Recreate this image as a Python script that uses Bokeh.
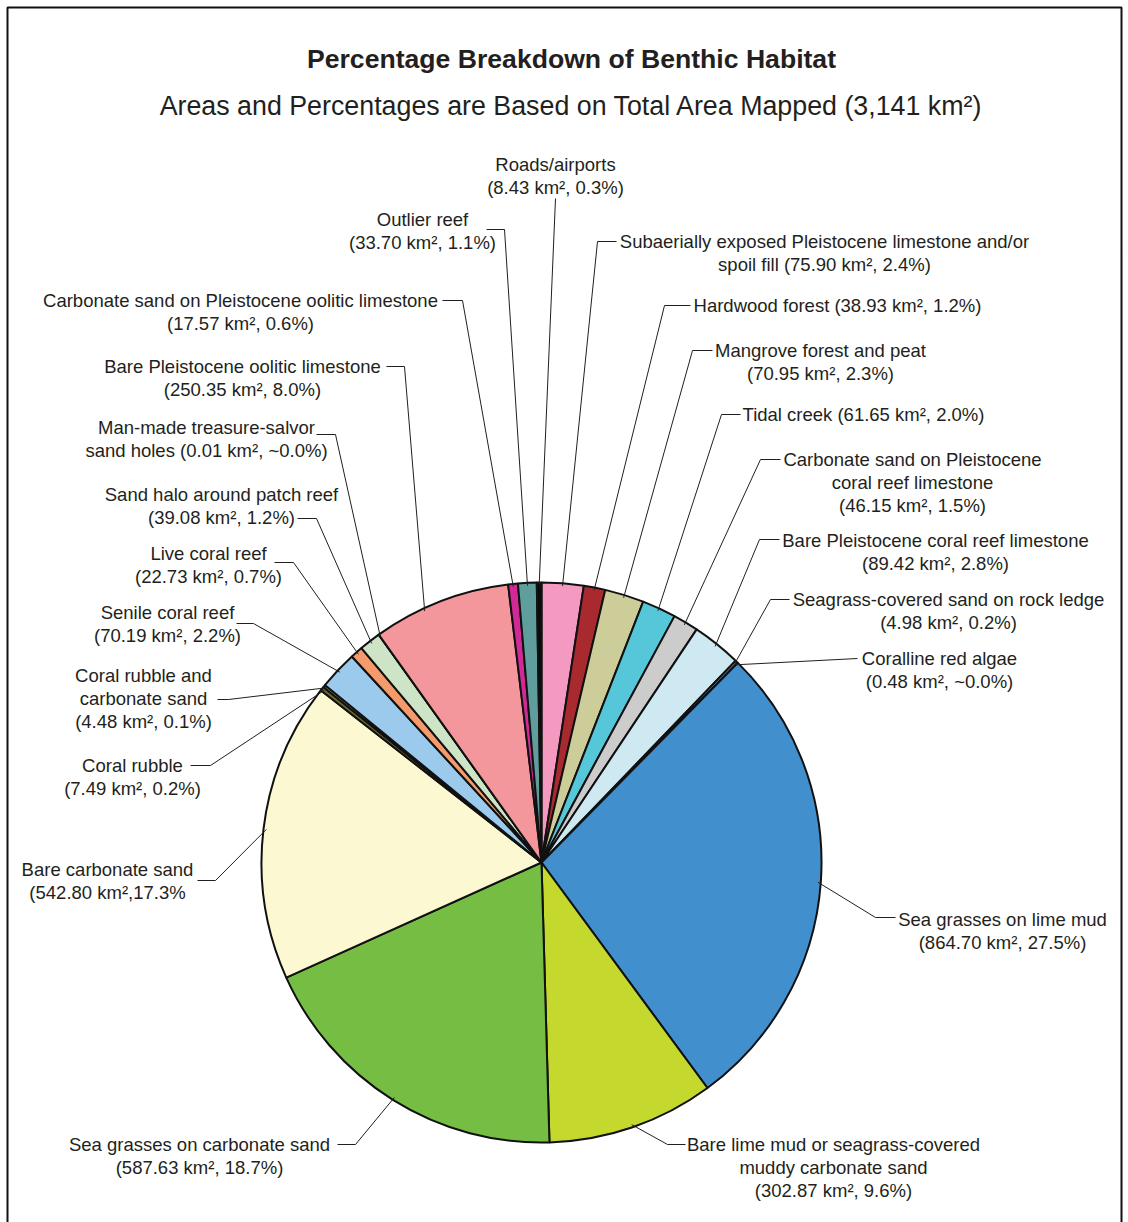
import math
from bokeh.plotting import figure
from bokeh.models import Range1d
from bokeh.core.properties import value
from bokeh.embed import file_html
from bokeh.resources import INLINE

# ---------------- data ----------------
habitats = [
    "Subaerially exposed Pleistocene limestone and/or spoil fill",
    "Hardwood forest",
    "Mangrove forest and peat",
    "Tidal creek",
    "Carbonate sand on Pleistocene coral reef limestone",
    "Bare Pleistocene coral reef limestone",
    "Seagrass-covered sand on rock ledge",
    "Coralline red algae",
    "Sea grasses on lime mud",
    "Bare lime mud or seagrass-covered muddy carbonate sand",
    "Sea grasses on carbonate sand",
    "Bare carbonate sand",
    "Coral rubble",
    "Coral rubble and carbonate sand",
    "Senile coral reef",
    "Live coral reef",
    "Sand halo around patch reef",
    "Man-made treasure-salvor sand holes",
    "Bare Pleistocene oolitic limestone",
    "Carbonate sand on Pleistocene oolitic limestone",
    "Outlier reef",
    "Roads/airports",
]
areas_km2 = [75.90, 38.93, 70.95, 61.65, 46.15, 89.42, 4.98, 0.48, 864.70, 302.87,
             587.63, 542.80, 7.49, 4.48, 70.19, 22.73, 39.08, 0.01, 250.35, 17.57,
             33.70, 8.43]
colors = ["#F49AC1", "#A8292E", "#CDCD9A", "#56C7D8", "#CCCCCC", "#CEE9F2", "#86BDE0",
          "#E8A3A8", "#418FCD", "#C5D82E", "#76BE43", "#FCF8D1", "#6B6A2E", "#A8A67A",
          "#9CCAEC", "#F59B6B", "#CDE5C6", "#FFFFFF", "#F4979C", "#D12A96", "#5F9E9C",
          "#0B0B0B"]
label_lines = [
    ["Subaerially exposed Pleistocene limestone and/or", "spoil fill (75.90 km\u00b2, 2.4%)"],
    ["Hardwood forest (38.93 km\u00b2, 1.2%)"],
    ["Mangrove forest and peat", "(70.95 km\u00b2, 2.3%)"],
    ["Tidal creek (61.65 km\u00b2, 2.0%)"],
    ["Carbonate sand on Pleistocene", "coral reef limestone", "(46.15 km\u00b2, 1.5%)"],
    ["Bare Pleistocene coral reef limestone", "(89.42 km\u00b2, 2.8%)"],
    ["Seagrass-covered sand on rock ledge", "(4.98 km\u00b2, 0.2%)"],
    ["Coralline red algae", "(0.48 km\u00b2, ~0.0%)"],
    ["Sea grasses on lime mud", "(864.70 km\u00b2, 27.5%)"],
    ["Bare lime mud or seagrass-covered", "muddy carbonate sand", "(302.87 km\u00b2, 9.6%)"],
    ["Sea grasses on carbonate sand", "(587.63 km\u00b2, 18.7%)"],
    ["Bare carbonate sand", "(542.80 km\u00b2,17.3%"],
    ["Coral rubble", "(7.49 km\u00b2, 0.2%)"],
    ["Coral rubble and", "carbonate sand", "(4.48 km\u00b2, 0.1%)"],
    ["Senile coral reef", "(70.19 km\u00b2, 2.2%)"],
    ["Live coral reef", "(22.73 km\u00b2, 0.7%)"],
    ["Sand halo around patch reef", "(39.08 km\u00b2, 1.2%)"],
    ["Man-made treasure-salvor", "sand holes (0.01 km\u00b2, ~0.0%)"],
    ["Bare Pleistocene oolitic limestone", "(250.35 km\u00b2, 8.0%)"],
    ["Carbonate sand on Pleistocene oolitic limestone", "(17.57 km\u00b2, 0.6%)"],
    ["Outlier reef", "(33.70 km\u00b2, 1.1%)"],
    ["Roads/airports", "(8.43 km\u00b2, 0.3%)"],
]
title = "Percentage Breakdown of Benthic Habitat"
subtitle = "Areas and Percentages are Based on Total Area Mapped (3,141 km\u00b2)"

# ---------------- layout (page pixels, y measured from top) ----------------
W, H = 1128, 1222
CX, CY, R = 541, 862, 280
LINE_H = 23
# label block centre x, first line y
label_pos = [(824, 241), (837, 305), (820, 350), (863, 414), (912, 459), (935, 540),
             (948, 599), (939, 658), (1002, 919), (833, 1144), (199, 1144), (107, 869),
             (132, 765), (143, 675), (167, 612), (208, 553), (221, 494), (206, 427),
             (242, 366), (240, 300), (422, 219), (555, 164)]
# leader: start point near the label, elbow point
leader_start = [(616, 241), (690, 305), (712, 350), (740, 414), (780, 459), (779, 539),
                (789, 599), (857, 658), (895, 917), (685, 1144), (337, 1144), (197, 880),
                (190, 765), (217, 699), (236, 623), (274, 562), (297, 518), (316, 434),
                (386, 366), (442, 300), (486, 229), (555, 198)]
leader_elbow = [(597, 241), (664, 305), (692, 350), (721, 414), (760, 459), (759, 539),
                (770, 599), (857, 658), (875, 917), (667, 1144), (355, 1144), (215, 880),
                (210, 765), (228, 699), (253, 623), (293, 562), (316, 518), (335, 434),
                (404, 366), (462, 300), (504, 229), (555, 198)]
leader_frac = [0.5] * len(habitats)
leader_frac[18] = 0.37


def fy(y):
    return H - y


total = sum(areas_km2)
start_f, end_f = [], []
acc = 0.0
for a in areas_km2:
    start_f.append(acc / total)
    acc += a
    end_f.append(acc / total)

start_ang = [math.pi / 2 - 2 * math.pi * f for f in start_f]
end_ang = [math.pi / 2 - 2 * math.pi * f for f in end_f]

p = figure(width=W, height=H, x_range=Range1d(0, W), y_range=Range1d(0, H),
           output_backend="svg", toolbar_location=None,
           x_axis_location=None, y_axis_location=None, min_border=0)
p.outline_line_color = None
p.xgrid.visible = False
p.ygrid.visible = False
p.background_fill_color = "white"

# frame
p.quad(left=[7], right=[1121], top=[fy(7)], bottom=[-20], fill_color=None,
       line_color="#111111", line_width=2)

# pie
p.wedge(x=CX, y=fy(CY), radius=R, start_angle=start_ang, end_angle=end_ang,
        direction="clock", fill_color=colors, line_color="#111111", line_width=2)

# leader lines
xs, ys = [], []
for i in range(len(habitats)):
    f = start_f[i] + leader_frac[i] * (end_f[i] - start_f[i])
    ang = 2 * math.pi * f
    px = CX + 0.99 * R * math.sin(ang)
    py = CY - 0.99 * R * math.cos(ang)
    sx, sy = leader_start[i]
    ex, ey = leader_elbow[i]
    xs.append([sx, ex, px])
    ys.append([fy(sy), fy(ey), fy(py)])
p.multi_line(xs=xs, ys=ys, line_color="#231F20", line_width=1)

# labels
tx, ty, tt = [], [], []
for i, lines in enumerate(label_lines):
    cx, y0 = label_pos[i]
    for k, s in enumerate(lines):
        tx.append(cx)
        ty.append(fy(y0 + k * LINE_H))
        tt.append(s)
p.text(x=tx, y=ty, text=tt, text_align="center", text_baseline="middle",
       text_font=value("Liberation Sans"), text_font_size="18.5px", text_color="#231F20")

p.text(x=[571], y=[fy(58)], text=[title], text_align="center", text_baseline="middle",
       text_font=value("Liberation Sans"), text_font_size="26.6px", text_font_style="bold",
       text_color="#231F20")
p.text(x=[571], y=[fy(105)], text=[subtitle], text_align="center", text_baseline="middle",
       text_font=value("Liberation Sans"), text_font_size="26.8px", text_color="#231F20")

open("out.html", "w").write(file_html(p, INLINE))
